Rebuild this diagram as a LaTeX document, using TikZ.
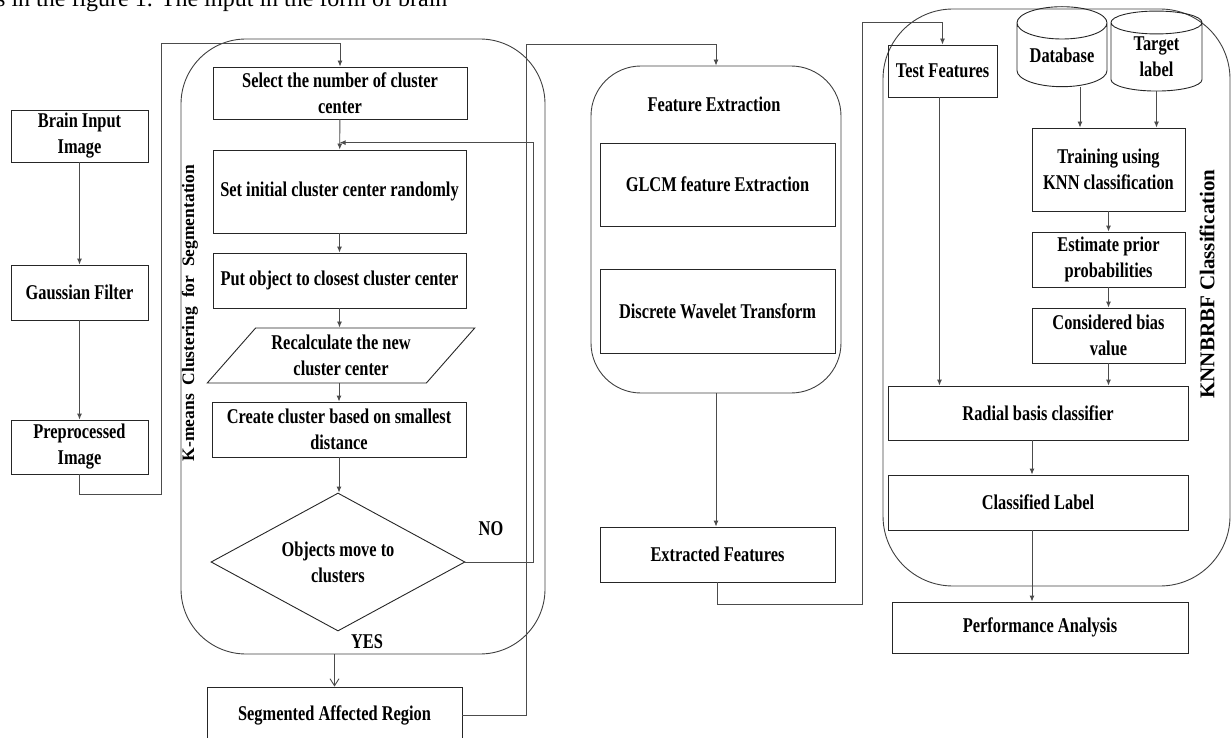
\documentclass[tikz,border=0pt]{standalone}
\usepackage{fontspec}
\setmainfont{Liberation Serif}
\newfontfamily\boxfont{Liberation Serif}[FakeStretch=0.78]
\usetikzlibrary{shapes.geometric,arrows.meta,calc}
\definecolor{lineGray}{gray}{0.3}
\tikzstyle{process} = [
 rectangle,
 draw=black!85,
 line width=0.9pt,
 inner sep=2pt,
 align = center,
 font=\boxfont\bfseries\fontsize{21}{26}\selectfont
]
\tikzstyle{groupBox} = [
 rectangle,
 draw=black!75,
 line width=0.9pt,
 rounded corners=65pt
]
\tikzstyle{decision} = [
 diamond,
 aspect=1.84,
 draw=black!85,
 line width=0.9pt,
 inner sep=0pt,
 align = center,
 font=\boxfont\bfseries\fontsize{21}{26}\selectfont
]
\tikzstyle{dataIO} = [
 trapezium,
 trapezium left angle=46,
 trapezium right angle=134,
 trapezium stretches=true,
 draw=black!85,
 line width=0.9pt,
 inner sep=0pt,
 align = center,
 font=\boxfont\bfseries\fontsize{21}{26}\selectfont
]
\tikzstyle{store} = [
 cylinder,
 shape border rotate=90,
 aspect=0.5,
 draw=black!85,
 line width=0.9pt,
 inner sep=0pt,
 align = center,
 font=\boxfont\bfseries\fontsize{21}{26}\selectfont
]
\tikzstyle{tag} = [
 inner sep=0pt,
 font=\boxfont\bfseries\fontsize{21}{26}\selectfont
]
\tikzstyle{sideTag} = [
 rotate=90,
 inner sep=0pt
]
\tikzstyle{link} = [
 draw=lineGray,
 line width=0.9pt,
 -{Latex[length=6pt,width=5pt]}
]
\tikzstyle{plainLink} = [
 draw=lineGray,
 line width=0.9pt
]

\begin{document}
\begin{tikzpicture}[x=1pt,y=-1pt]
  \useasboundingbox (0,0) rectangle (1231,738);

  \node[anchor=base west, inner sep=0pt, font=\fontsize{24}{28}\selectfont] (pagetext) at (-4,7)
    {s in the figure 1. The input in the form of brain};

  \node[groupBox, minimum width=364, minimum height=615] (kmeans) at (363,346.5) {};
  \node[groupBox, rounded corners=50pt, minimum width=250, minimum height=327] (feat) at (716,229.5) {};
  \node[groupBox, rounded corners=70pt, minimum width=347, minimum height=577] (knn) at (1056.5,297.5) {};

  \node[process, minimum width=137, minimum height=52] (brain) at (79.5,136) {Brain Input\\Image};
  \node[process, minimum width=137, minimum height=55] (gauss) at (79.5,292.5) {Gaussian Filter};
  \node[process, minimum width=137, minimum height=54] (prep) at (79.5,447) {Preprocessed\\Image};

  \node[process, minimum width=254, minimum height=52] (select) at (340,93) {Select the number of cluster\\center};
  \node[process, minimum width=253, minimum height=83] (init) at (339.5,191.5) {Set initial cluster center randomly};
  \node[process, minimum width=253, minimum height=55] (put) at (339.5,280.5) {Put object to closest cluster center};
  \node[dataIO, minimum width=268, minimum height=55] (recalc) at (341,355.5) {Recalculate the new\\cluster center};
  \node[process, minimum width=254, minimum height=55] (create) at (339,429.5) {Create cluster based on smallest\\distance};
  \node[decision, minimum width=254, minimum height=138] (move) at (338,562) {Objects move to\\clusters};
  \node[tag] (no) at (491,529) {NO};
  \node[tag] (yes) at (367,642) {YES};
  \node[sideTag, font=\bfseries\fontsize{17.5}{20}\selectfont] (kmeansLabel) at (190,313)
    {K-means\ \ Clustering\ \ for\ \ Segmentation};
  \node[process, minimum width=255, minimum height=56] (seg) at (334.5,715) {Segmented Affected Region};

  \node[tag] (featTitle) at (714,104) {Feature Extraction};
  \node[process, minimum width=235, minimum height=83] (glcm) at (717.5,184.5) {GLCM feature Extraction};
  \node[process, minimum width=235, minimum height=84] (dwt) at (717.5,311) {Discrete Wavelet Transform};
  \node[process, minimum width=235, minimum height=55] (extr) at (717.5,554.5) {Extracted Features};

  \node[process, minimum width=109, minimum height=52] (test) at (942.5,71) {Test Features};
  \node[store, minimum width=90, minimum height=80] (db) at (1062,55) {Database};
  \node[store, minimum width=91, minimum height=80] (target) at (1156.5,57) {Target\\label};
  \node[process, minimum width=153, minimum height=83] (train) at (1108.5,169.5) {Training using\\KNN classification};
  \node[process, minimum width=153, minimum height=55] (prior) at (1108.5,259.5) {Estimate prior\\probabilities};
  \node[process, minimum width=153, minimum height=55] (bias) at (1108.5,335.5) {Considered bias\\value};
  \node[process, minimum width=300, minimum height=54] (radial) at (1038,413) {Radial basis classifier};
  \node[process, minimum width=300, minimum height=55] (classed) at (1038,502.5) {Classified Label};
  \node[process, minimum width=296, minimum height=51] (perf) at (1040,627.5) {Performance Analysis};
  \node[sideTag, font=\bfseries\fontsize{21}{24}\selectfont] (knnLabel) at (1207,284)
    {KNNBRBF Classification};

  \coordinate (loop) at ($(select.south)!0.77!(init.north)$);

  \draw[link] (brain) -- (gauss);
  \draw[link] (gauss) -- (prep);
  \draw[link] (prep.south) -- ++(0,20) -- ++(82,0) |- ($(select.north)+(0,-23)$) -- (select.north);
  \draw[link] (select) -- (init);
  \draw[link] (init) -- (put);
  \draw[link] (put.south) -- (put.south |- recalc.north);
  \draw[link] (recalc.south -| create.north) -- (create.north);
  \draw[link] (create.south) -- (create.south |- move.north);
  \draw[link] (move.east) -- ++(68,0) |- (loop);
  \draw[plainLink, -{Straight Barb[length=7pt,width=9pt]}] (seg.north |- kmeans.south) -- (seg.north);
  \draw[link] (seg.east) -- ++(64,0) |- ($(feat.north)+(0,-21)$) -- (feat.north);
  \draw[link] (feat.south) -- (feat.south |- extr.north);
  \draw[link] (extr.south) -- ++(0,22) -- ++(145,0) |- ($(test.north)+(0,-22)$) -- (test.north);
  \draw[link] ([xshift=18pt]db.south) -- ([xshift=18pt]db.south |- train.north);
  \draw[link] (target.south) -- (target.south |- train.north);
  \draw[link] (train) -- (prior);
  \draw[link] (prior) -- (bias);
  \draw[link] (bias.south) -- (bias.south |- radial.north);
  \draw[link] ([xshift=-3pt]test.south) -- ([xshift=-3pt]test.south |- radial.north);
  \draw[link] ([xshift=-6pt]radial.south) -- ([xshift=-6pt]classed.north);
  \draw[link] ([xshift=-6pt]classed.south) -- ([xshift=-8pt]perf.north);
\end{tikzpicture}
\end{document}
